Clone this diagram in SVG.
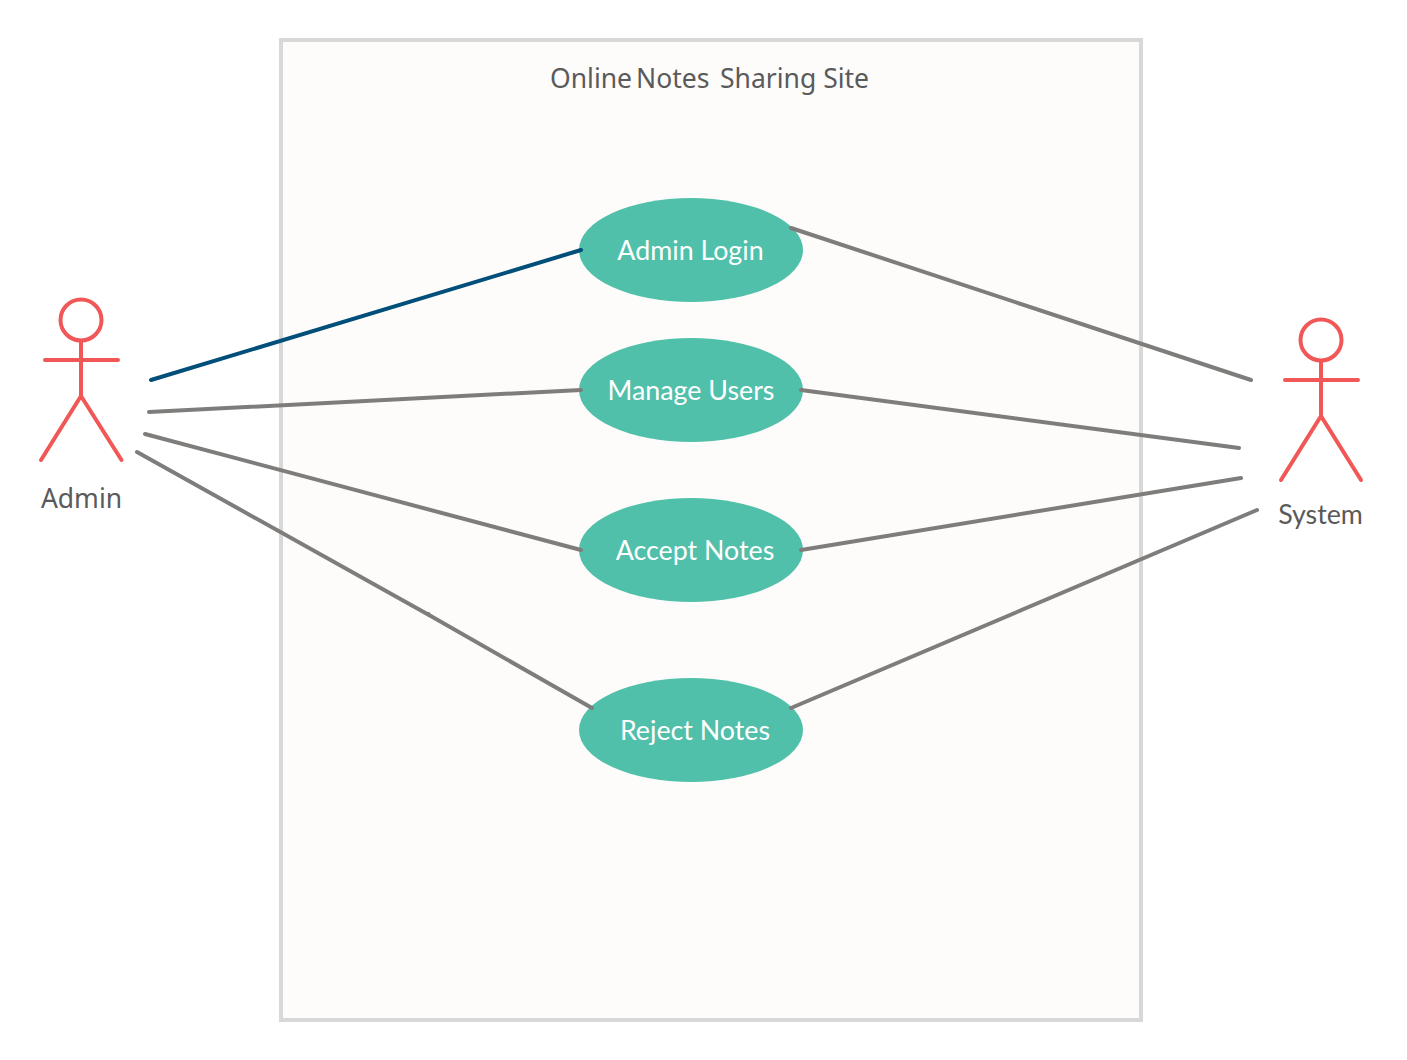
<svg xmlns="http://www.w3.org/2000/svg" width="1407" height="1060" viewBox="0 0 1407 1060">
<style>
.t{font-family:"Noto Sans","Open Sans",sans-serif;font-size:26.5px;fill:#5a5a5a}
.u ellipse{fill:#51c0aa}
.u text{font-family:Lato,"Noto Sans",sans-serif;font-size:26.800px;fill:#fff;text-anchor:middle}
.a{fill:none;stroke:#f15757;stroke-width:4;stroke-linecap:round;stroke-linejoin:round}
.l{fill:none;stroke:#7f7d7b;stroke-width:4;stroke-linecap:round;stroke-linejoin:round}
.n{font-family:"Noto Sans","Open Sans",sans-serif;font-size:26.500px;fill:#5a5a5a;text-anchor:middle}
.s{font-family:Lato,"Noto Sans",sans-serif;font-size:26.800px;fill:#5a5a5a;text-anchor:middle}
</style>
<rect width="1407" height="1060" fill="#fff"/>
<g id="system-boundary">
<rect x="281" y="40" width="860" height="980" fill="#fdfcfa" stroke="#d8d8d8" stroke-width="4"/>
<text class="t"><tspan x="550" y="88">Online</tspan><tspan x="636" y="88">Notes</tspan><tspan x="720" y="88">Sharing Site</tspan></text>
</g>
<g id="admin-login" class="u"><ellipse cx="691" cy="250" rx="112" ry="52"/><text x="690.500" y="260">Admin Login</text></g>
<g id="manage-users" class="u"><ellipse cx="691" cy="390" rx="112" ry="52"/><text x="691" y="400">Manage Users</text></g>
<g id="accept-notes" class="u"><ellipse cx="691" cy="550" rx="112" ry="52"/><text x="695" y="560">Accept Notes</text></g>
<g id="reject-notes" class="u"><ellipse cx="691" cy="730" rx="112" ry="52"/><text x="695" y="740">Reject Notes</text></g>
<g id="connectors">
<path d="M151 380L581 250" fill="none" stroke="#004f7a" stroke-width="4" stroke-linecap="round"/>
<path class="l" d="M149 412L581 390"/>
<path class="l" d="M145 434L581 550"/>
<path class="l" d="M137 452L429 615L592 708M429 615L428.500 614"/>
<path class="l" d="M791 228L1251 380"/>
<path class="l" d="M801 390L1239 448"/>
<path class="l" d="M801 550L1241 478"/>
<path class="l" d="M791 708L1257 510"/>
</g>
<g id="admin"><circle class="a" cx="81" cy="320" r="20.500"/><path class="a" d="M81 341V396M45 360H118M41 460L81 396L121.500 460"/><text class="n" x="81.500" y="508">Admin</text></g>
<g id="system"><circle class="a" cx="1321" cy="340" r="20.500"/><path class="a" d="M1321 361V416M1285 380H1358M1281 480L1321 416L1361 480"/><text class="s" x="1320.500" y="524">System</text></g>
</svg>
